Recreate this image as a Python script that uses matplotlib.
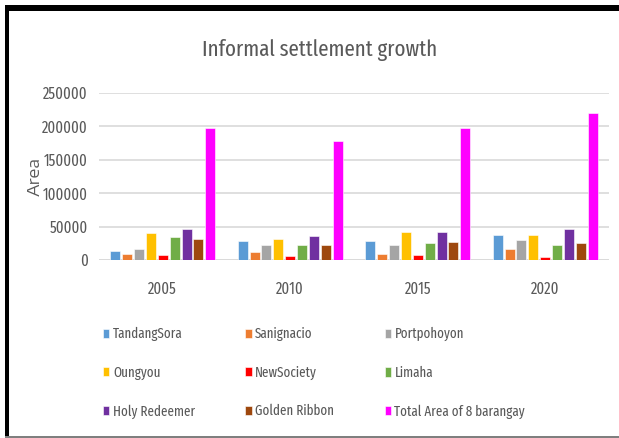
import matplotlib.pyplot as plt
from matplotlib.patches import Rectangle
import numpy as np

# Data
years = ['2005', '2010', '2015', '2020']
barangays = ['TandangSora', 'Sanignacio', 'Portpohoyon', 'Oungyou', 'NewSociety',
             'Limaha', 'Holy Redeemer', 'Golden Ribbon', 'Total Area of 8 barangay']

tandang_sora = [13000, 28000, 28000, 38000]
sanignacio = [9000, 12000, 9000, 17000]
portpohoyon = [17000, 22000, 22000, 30000]
oungyou = [40000, 32000, 42000, 38000]
new_society = [7000, 5500, 7000, 5000]
limaha = [35000, 22000, 25000, 22000]
holy_redeemer = [46000, 36000, 42000, 46000]
golden_ribbon = [31500, 23000, 27000, 25000]
total_area = [197500, 177500, 197500, 220000]

series = [tandang_sora, sanignacio, portpohoyon, oungyou, new_society,
          limaha, holy_redeemer, golden_ribbon, total_area]
colors = ['#5B9BD5', '#ED7D31', '#A5A5A5', '#FFC000', '#FF0000',
          '#70AD47', '#7030A0', '#9E480E', '#FF00FF']

W, H = 619, 438
fam = ['Fira Sans Extra Condensed', 'DejaVu Sans']
txt = '#595959'

fig = plt.figure(figsize=(W / 100, H / 100), dpi=100)
ax = fig.add_axes([99 / W, 1 - 260 / H, 510 / W, 167 / H])

x = np.arange(len(years))
slot = 0.0933
width = 0.078
bars = []
for i, (vals, c) in enumerate(zip(series, colors)):
    b = ax.bar(x + (i - 4) * slot, vals, width, color=c, label=barangays[i],
               edgecolor='white', linewidth=0.4, zorder=3)
    bars.append(b)

ax.set_xlim(-0.5, 3.5)
ax.set_ylim(0, 250000)
ax.set_yticks(range(0, 250001, 50000))
ax.set_xticks(x)
ax.set_xticklabels(years)
ax.grid(axis='y', color='#D9D9D9', linewidth=1.2, zorder=0)
for s in ax.spines.values():
    s.set_visible(False)
ax.axhline(0, color='#D9D9D9', linewidth=1.2, zorder=1)
ax.tick_params(length=0, colors=txt, labelsize=11.5)
ax.tick_params(axis='y', pad=8)
ax.tick_params(axis='x', pad=15)
for lab in ax.get_xticklabels() + ax.get_yticklabels():
    lab.set_family(fam)

fig.text(320 / W, 1 - 56 / H, 'Informal settlement growth', ha='center', va='baseline',
         fontsize=16.3, color=txt, family=fam)
fig.text(35 / W, 1 - 176 / H, 'Area', ha='center', va='center', rotation=90,
         fontsize=12, color=txt, family=['Encode Sans Expanded', 'DejaVu Sans'])

# legend filled row by row
order = [0, 3, 6, 1, 4, 7, 2, 5, 8]
leg = fig.legend([bars[i] for i in order], [barangays[i] for i in order],
                 ncol=3, loc='upper left', bbox_to_anchor=(103 / W, 1 - 327 / H),
                 frameon=False, handlelength=0.45, handleheight=0.63,
                 handletextpad=0.25, columnspacing=3.55, labelspacing=1.71,
                 borderpad=0, borderaxespad=0, prop={'family': fam, 'size': 10.2})
for t in leg.get_texts():
    t.set_color(txt)

# frame lines around the figure
fig.add_artist(Rectangle((5 / W, 1 - 11 / H), 1 - 5 / W, 6 / H, transform=fig.transFigure,
                         color='black', lw=0))
fig.add_artist(Rectangle((5 / W, 0), 4 / W, 1 - 5 / H, transform=fig.transFigure,
                         color='black', lw=0))
fig.add_artist(Rectangle((5 / W, 0.5 / H), 1 - 5 / W, 1.6 / H, transform=fig.transFigure,
                         color='#7F7F7F', lw=0))

fig.savefig('out.png', dpi=100)
